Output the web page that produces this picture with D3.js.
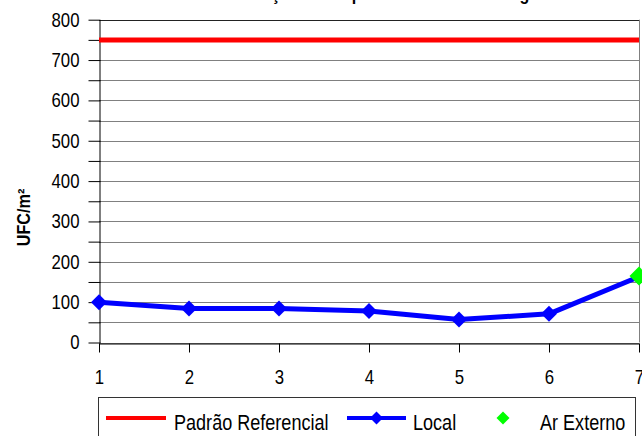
<!DOCTYPE html>
<html>
<head>
<meta charset="utf-8">
<script src="https://cdn.jsdelivr.net/npm/d3@7"></script>
<style>
	html, body { margin: 0; padding: 0; background: #fff; }
	svg { display: block; font-family: 'Liberation Sans', Arial, sans-serif; }
</style>
</head>
<body>
<div id="chart"></div>
<script>

// chart values
const categories = [1, 2, 3, 4, 5, 6, 7];
const padraoReferencial = [750, 750, 750, 750, 750, 750, 750];
const local = [100, 84, 84, 78, 57, 71, 163];
const arExterno = [null, null, null, null, null, null, 165];
const yTicks = [0, 50, 100, 150, 200, 250, 300, 350, 400, 450, 500, 550, 600, 650, 700, 750, 800];
const yLabels = ['0', '100', '200', '300', '400', '500', '600', '700', '800'];
const legendLabels = ['Padrão Referencial', 'Local', 'Ar Externo'];
const title = 'Contaminação Aérea por Ponto de Amostragem';
const yTitle = 'UFC/m²';

const width = 642;
const height = 436;
const narrow = 0.84;

const theme = {
	red: '#FF0000',
	blue: '#0000FF',
	green: '#00FF00',
	grid: '#808080',
	axis: '#000000',
};

const svg = d3.select('#chart')
	.append('svg')
	.attr('width', width)
	.attr('height', height);

const x = d3.scaleLinear().domain([1, 7]).range([99, 639]);
const y = d3.scaleLinear().domain([0, 800]).range([342.5, 19.7]);

// gridlines
svg.append('g')
	.selectAll('line')
	.data(yTicks)
	.enter()
	.append('line')
	.attr('x1', x(1))
	.attr('x2', x(7))
	.attr('y1', d => Math.round(y(d)) + 0.5)
	.attr('y2', d => Math.round(y(d)) + 0.5)
	.attr('stroke', theme.grid)
	.attr('stroke-width', 1);

// top and right border of the plot
svg.append('line')
	.attr('x1', x(1)).attr('x2', x(7))
	.attr('y1', Math.round(y(800)) + 0.5).attr('y2', Math.round(y(800)) + 0.5)
	.attr('stroke', '#222');
svg.append('line')
	.attr('x1', Math.round(x(7)) + 0.5).attr('x2', Math.round(x(7)) + 0.5)
	.attr('y1', y(800)).attr('y2', y(0))
	.attr('stroke', theme.grid);

// y axis
const yAxis = svg.append('g')
	.attr('transform', 'translate(' + (Math.round(x(1)) + 0.5) + ',0)')
	.call(d3.axisLeft(y)
		.tickValues(yTicks)
		.tickSize(11)
		.tickSizeOuter(0)
		.tickFormat(d => yLabels.includes(String(d)) ? String(d) : ''));
yAxis.select('.domain').attr('stroke', theme.axis);
yAxis.selectAll('.tick line').attr('stroke', theme.axis).attr('x2', -11).attr('x1', 1);
yAxis.selectAll('.tick text')
	.attr('x', -20 / narrow)
	.attr('transform', 'scale(' + narrow + ',1)')
	.attr('font-size', 20)
	.attr('fill', '#000');

// x axis
const xAxis = svg.append('g')
	.attr('transform', 'translate(0,' + (Math.round(y(0)) + 0.5) + ')')
	.call(d3.axisBottom(x)
		.tickValues(categories)
		.tickSize(9)
		.tickSizeOuter(0)
		.tickPadding(17)
		.tickFormat(d3.format('d')));
xAxis.select('.domain').attr('stroke', theme.axis);
xAxis.selectAll('.tick line').attr('stroke', theme.axis);
xAxis.selectAll('.tick text')
	.attr('transform', 'scale(' + narrow + ',1)')
	.attr('font-size', 20)
	.attr('fill', '#000');

// reference line
const line = d3.line()
	.defined(d => d[1] !== null)
	.x(d => x(d[0]))
	.y(d => y(d[1]));

svg.append('path')
	.datum(d3.zip(categories, padraoReferencial))
	.attr('d', line)
	.attr('fill', 'none')
	.attr('stroke', theme.red)
	.attr('stroke-width', 5);

// local series
svg.append('path')
	.datum(d3.zip(categories, local))
	.attr('d', line)
	.attr('fill', 'none')
	.attr('stroke', theme.blue)
	.attr('stroke-width', 5)
	.attr('stroke-linejoin', 'round');

const diamond = (half) => d3.symbol().type(d3.symbolSquare).size(2 * half * half)();

svg.append('g')
	.selectAll('path')
	.data(d3.zip(categories, local))
	.enter()
	.append('path')
	.attr('d', diamond(8))
	.attr('transform', d => 'translate(' + x(d[0]) + ',' + y(d[1]) + ') rotate(45)')
	.attr('fill', theme.blue);

svg.append('g')
	.selectAll('path')
	.data(d3.zip(categories, arExterno).filter(d => d[1] !== null))
	.enter()
	.append('path')
	.attr('d', diamond(9.5))
	.attr('transform', d => 'translate(' + x(d[0]) + ',' + y(d[1]) + ') rotate(45)')
	.attr('fill', theme.green);

// title, mostly above the visible area
svg.append('text')
	.attr('transform', 'translate(370.4,0) scale(0.845,1)')
	.attr('text-anchor', 'middle')
	.attr('font-size', 19)
	.attr('font-weight', 'bold')
	.text(title);

// y axis title
svg.append('text')
	.attr('transform', 'translate(30,217.5) rotate(-90) scale(0.9,1)')
	.attr('text-anchor', 'middle')
	.attr('font-size', 18)
	.attr('font-weight', 'bold')
	.text(yTitle);

// legend
const legend = svg.append('g');

legend.append('rect')
	.attr('x', 98.5)
	.attr('y', 397.5)
	.attr('width', 537)
	.attr('height', 60)
	.attr('fill', '#fff')
	.attr('stroke', '#333');

legend.append('line')
	.attr('x1', 106).attr('x2', 166)
	.attr('y1', 418).attr('y2', 418)
	.attr('stroke', theme.red)
	.attr('stroke-width', 4);

legend.append('line')
	.attr('x1', 347).attr('x2', 406)
	.attr('y1', 418).attr('y2', 418)
	.attr('stroke', theme.blue)
	.attr('stroke-width', 4);

legend.append('path')
	.attr('d', diamond(6.5))
	.attr('transform', 'translate(376.5,418) rotate(45)')
	.attr('fill', theme.blue);

legend.append('path')
	.attr('d', diamond(6.5))
	.attr('transform', 'translate(503,418) rotate(45)')
	.attr('fill', theme.green);

const legendX = [174, 413, 540];

legend.selectAll('text')
	.data(legendLabels)
	.enter()
	.append('text')
	.attr('transform', (d, i) => 'translate(' + legendX[i] + ',430) scale(' + narrow + ',1)')
	.attr('font-size', 21.5)
	.attr('fill', '#000')
	.text(d => d);

</script>
</body>
</html>
